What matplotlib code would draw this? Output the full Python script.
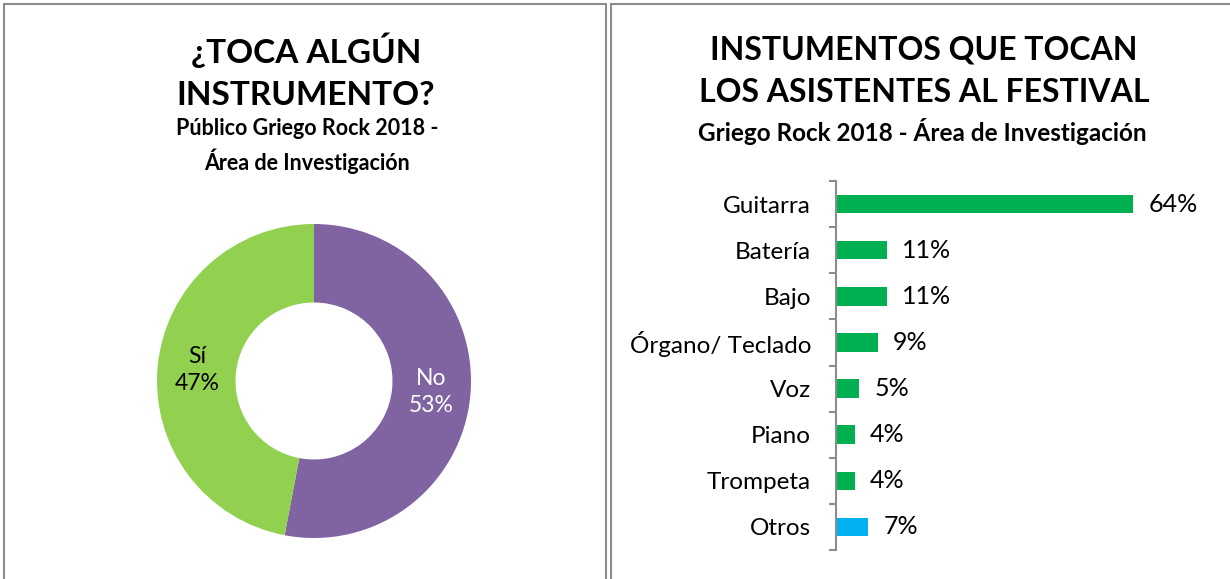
import numpy as np
import matplotlib.pyplot as plt
from matplotlib.patches import Rectangle

plt.rcParams['font.family'] = ['Lato', 'DejaVu Sans']

# donut data
donut_labels = ['No', 'Sí']
donut_values = [53, 47]
donut_colors = ['#8064A2', '#92D050']
donut_text_colors = ['white', 'black']

# bar data
instrumentos = ['Guitarra', 'Batería', 'Bajo', 'Órgano/ Teclado', 'Voz', 'Piano', 'Trompeta', 'Otros']
porcentajes = [64, 11, 11, 9, 5, 4, 4, 7]
bar_colors = ['#00B050'] * 7 + ['#00B0F0']

W, H = 1230, 579
fig = plt.figure(figsize=(W / 100, H / 100), dpi=100)

# panel borders
for x0, x1 in [(4, 606), (611, 1240)]:
    fig.patches.append(Rectangle((x0 / W, -0.05), (x1 - x0) / W, 1.05 - 4 / H,
                                 transform=fig.transFigure, fill=False,
                                 edgecolor='#8c8c8c', linewidth=1.5))

# left titles
fig.text(306 / W, 1 - 71 / H, '¿TOCA ALGÚN\nINSTRUMENTO?', ha='center', va='center',
         fontsize=24, fontweight='bold', linespacing=1.55)
fig.text(307 / W, 1 - 146 / H, 'Público Griego Rock 2018 -\nÁrea de Investigación',
         ha='center', va='center', fontsize=15.5, fontweight='bold', linespacing=1.45)

# right titles
fig.text(924 / W, 1 - 71 / H, 'INSTUMENTOS QUE TOCAN\nLOS ASISTENTES AL FESTIVAL',
         ha='center', va='center', fontsize=23, fontweight='bold', linespacing=1.55)
fig.text(922 / W, 1 - 131 / H, 'Griego Rock 2018 - Área de Investigación',
         ha='center', va='center', fontsize=17.5, fontweight='bold')

# donut
r = 157
ax1 = fig.add_axes([(314 - r) / W, (H - 381 - r) / H, 2 * r / W, 2 * r / H])
wedges, _ = ax1.pie(donut_values, colors=donut_colors, startangle=90, counterclock=False,
                    radius=1, wedgeprops=dict(width=0.5, edgecolor='none'))
for w, lab, val, tc in zip(wedges, donut_labels, donut_values, donut_text_colors):
    ang = np.deg2rad((w.theta1 + w.theta2) / 2)
    ax1.text(0.75 * np.cos(ang), 0.75 * np.sin(ang), f'{lab}\n{val}%', ha='center', va='center',
             color=tc, fontsize=16.5, linespacing=1.35)
ax1.set_xlim(-1, 1)
ax1.set_ylim(-1, 1)
ax1.axis('off')

# bars
ax2 = fig.add_axes([836 / W, (H - 550) / H, (1133 - 836) / W, (550 - 181) / H])
y = np.arange(len(instrumentos))
ax2.barh(y, porcentajes, height=0.4, color=bar_colors)
ax2.set_ylim(len(instrumentos) - 0.5, -0.5)
ax2.set_xlim(0, max(porcentajes))
ax2.set_yticks(y)
ax2.set_yticklabels(instrumentos, fontsize=17.5)
ax2.set_yticks(np.arange(len(instrumentos) + 1) - 0.5, minor=True)
ax2.tick_params(axis='y', which='major', length=0, pad=18)
ax2.tick_params(axis='y', which='minor', length=5, width=1.5, color='#8c8c8c', direction='out')
ax2.set_xticks([])
for s in ['top', 'right', 'bottom']:
    ax2.spines[s].set_visible(False)
ax2.spines['left'].set_color('#8c8c8c')
ax2.spines['left'].set_linewidth(1.5)
for yi, v in zip(y, porcentajes):
    ax2.annotate(f'{v}%', (v, yi), xytext=(11, 0), textcoords='offset points',
                 ha='left', va='center', fontsize=18, annotation_clip=False)

fig.savefig('out.png', dpi=100)
